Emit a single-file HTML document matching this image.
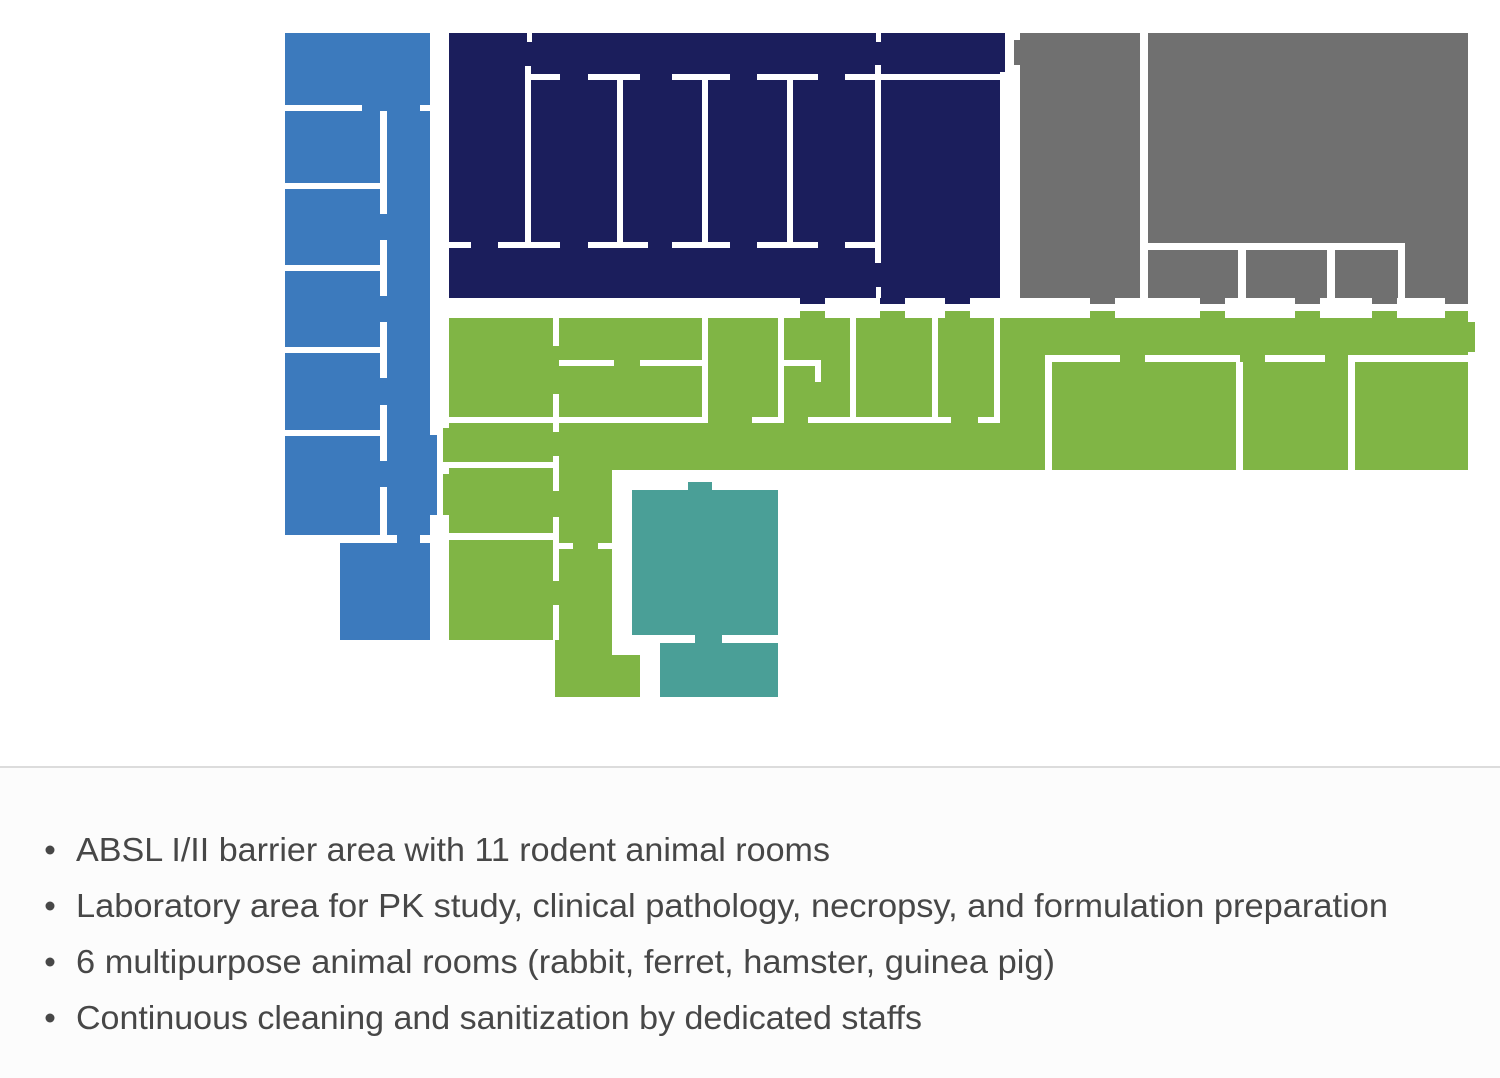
<!DOCTYPE html>
<html><head><meta charset="utf-8"><style>
html,body{margin:0;padding:0;background:#fff;}
svg{display:block;}
</style></head><body>
<svg width="1500" height="1078" viewBox="0 0 1500 1078" xmlns="http://www.w3.org/2000/svg">
<rect width="1500" height="1078" fill="#fff"/>
<rect x="0" y="768" width="1500" height="310" fill="#fcfcfc"/>
<rect x="0" y="766" width="1500" height="2" fill="#dcdcdc"/>
<!-- BLUE -->
<g fill="#3c7abd">
<rect x="285" y="33" width="145" height="502"/>
<rect x="340" y="535" width="90" height="105"/>
<rect x="430" y="435" width="7" height="80"/>
</g>
<g fill="#fff">
<rect x="285" y="105" width="77" height="6"/><rect x="420" y="105" width="10" height="6"/>
<rect x="285" y="183" width="100" height="6"/>
<rect x="285" y="265" width="100" height="6"/>
<rect x="285" y="347" width="100" height="6"/>
<rect x="285" y="430" width="100" height="6"/>
<rect x="285" y="535" width="112" height="8"/><rect x="420" y="535" width="10" height="8"/>
<rect x="380" y="111" width="7" height="52"/>
<rect x="380" y="158" width="7" height="56"/>
<rect x="380" y="240" width="7" height="56"/>
<rect x="380" y="322" width="7" height="56"/>
<rect x="380" y="405" width="7" height="56"/>
<rect x="380" y="487" width="7" height="50"/>
<rect x="285" y="535" width="55" height="110"/>
</g>
<!-- NAVY -->
<rect x="449" y="33" width="556" height="265" fill="#1b1e5c"/>
<g fill="#1b1e5c">
<rect x="800" y="296" width="25" height="8"/><rect x="880" y="296" width="25" height="8"/><rect x="945" y="296" width="25" height="8"/>
</g>
<g fill="#fff">
<rect x="1000" y="72" width="5" height="226"/>
<rect x="527" y="74" width="33" height="6"/><rect x="588" y="74" width="52" height="6"/><rect x="672" y="74" width="58" height="6"/><rect x="757" y="74" width="61" height="6"/><rect x="845" y="74" width="155" height="6"/>
<rect x="449" y="242" width="22" height="6"/><rect x="498" y="242" width="62" height="6"/><rect x="588" y="242" width="60" height="6"/><rect x="672" y="242" width="58" height="6"/><rect x="757" y="242" width="61" height="6"/><rect x="845" y="242" width="33" height="6"/>
<rect x="525" y="66" width="6" height="182"/>
<rect x="617" y="74" width="6" height="174"/>
<rect x="702" y="74" width="6" height="174"/>
<rect x="787" y="74" width="6" height="174"/>
<rect x="875" y="65" width="6" height="198"/>
<rect x="527" y="33" width="5" height="9"/><rect x="876" y="33" width="5" height="9"/><rect x="876" y="287" width="5" height="11"/>
</g>
<!-- GRAY -->
<g fill="#707070">
<rect x="1020" y="33" width="120" height="265"/>
<rect x="1014" y="40" width="6" height="25"/>
<rect x="1148" y="33" width="320" height="265"/>
<rect x="1090" y="296" width="25" height="8"/><rect x="1200" y="296" width="25" height="8"/><rect x="1295" y="296" width="25" height="8"/><rect x="1372" y="296" width="25" height="8"/><rect x="1445" y="296" width="23" height="8"/>
</g>
<g fill="#fff">
<rect x="1148" y="243" width="257" height="7"/>
<rect x="1398" y="243" width="7" height="55"/>
<rect x="1238" y="250" width="8" height="48"/>
<rect x="1327" y="250" width="8" height="48"/>
</g>
<!-- GREEN -->
<g fill="#80b545">
<rect x="449" y="318" width="1019" height="152"/>
<rect x="800" y="311" width="25" height="8"/><rect x="880" y="311" width="25" height="8"/><rect x="945" y="311" width="25" height="8"/>
<rect x="1090" y="311" width="25" height="8"/><rect x="1200" y="311" width="25" height="8"/><rect x="1295" y="311" width="25" height="8"/><rect x="1372" y="311" width="25" height="8"/><rect x="1445" y="311" width="23" height="8"/>
<rect x="1468" y="322" width="7" height="30"/>
<rect x="443" y="428" width="169" height="212"/>
<rect x="449" y="470" width="163" height="170"/>
<rect x="555" y="470" width="57" height="190"/>
</g>
<g fill="#fff">
<rect x="443" y="318" width="6" height="110"/>
<rect x="443" y="462" width="6" height="12"/><rect x="443" y="515" width="6" height="125"/>
<rect x="449" y="417" width="257" height="6"/><rect x="752" y="417" width="28" height="6"/><rect x="808" y="417" width="143" height="6"/><rect x="978" y="417" width="22" height="6"/>
<rect x="553" y="318" width="6" height="28"/><rect x="553" y="394" width="6" height="38"/>
<rect x="559" y="360" width="55" height="6"/><rect x="640" y="360" width="65" height="6"/>
<rect x="702" y="318" width="6" height="105"/>
<rect x="778" y="318" width="6" height="105"/>
<rect x="784" y="360" width="36" height="6"/><rect x="815" y="360" width="6" height="22"/>
<rect x="850" y="318" width="6" height="105"/>
<rect x="932" y="318" width="6" height="105"/>
<rect x="994" y="318" width="6" height="105"/>
<rect x="1045" y="355" width="75" height="7"/><rect x="1145" y="355" width="95" height="7"/><rect x="1265" y="355" width="60" height="7"/><rect x="1352" y="355" width="116" height="7"/>
<rect x="1045" y="355" width="7" height="115"/>
<rect x="1236" y="362" width="7" height="108"/>
<rect x="1348" y="355" width="7" height="115"/>
<rect x="449" y="462" width="108" height="6"/><rect x="553" y="456" width="6" height="35"/>
<rect x="449" y="533" width="108" height="7"/><rect x="553" y="517" width="6" height="64"/>
<rect x="559" y="543" width="14" height="6"/><rect x="598" y="543" width="14" height="6"/>
<rect x="553" y="605" width="6" height="40"/>
<rect x="449" y="640" width="106" height="60"/>
<rect x="612" y="470" width="860" height="240"/>
</g>
<rect x="555" y="640" width="57" height="57" fill="#80b545"/>
<rect x="555" y="655" width="85" height="42" fill="#80b545"/>
<!-- TEAL -->
<g fill="#4a9f97">
<rect x="632" y="490" width="146" height="145"/>
<rect x="688" y="482" width="24" height="8"/>
<rect x="660" y="643" width="118" height="54"/>
<rect x="695" y="635" width="27" height="8"/>
</g>
<!-- TEXT -->
<g fill="#474747" font-family="'Liberation Sans', sans-serif" font-size="33">
<circle cx="50" cy="850" r="4.5"/><circle cx="50" cy="906" r="4.5"/><circle cx="50" cy="962" r="4.5"/><circle cx="50" cy="1018" r="4.5"/>
<text x="76" y="861" textLength="754" lengthAdjust="spacingAndGlyphs">ABSL I/II barrier area with 11 rodent animal rooms</text>
<text x="76" y="917" textLength="1312" lengthAdjust="spacingAndGlyphs">Laboratory area for PK study, clinical pathology, necropsy, and formulation preparation</text>
<text x="76" y="973" textLength="979" lengthAdjust="spacingAndGlyphs">6 multipurpose animal rooms (rabbit, ferret, hamster, guinea pig)</text>
<text x="76" y="1029" textLength="846" lengthAdjust="spacingAndGlyphs">Continuous cleaning and sanitization by dedicated staffs</text>
</g>
</svg>
</body></html>
